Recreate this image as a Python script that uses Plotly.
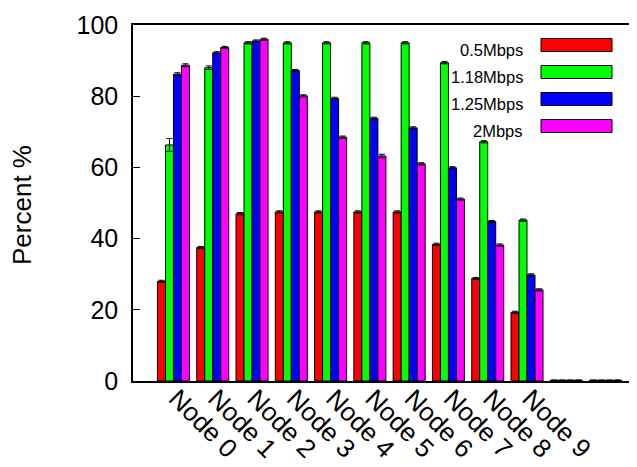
import plotly.graph_objects as go

# ---- data ----
node_labels = ["Node 0", "Node 1", "Node 2", "Node 3", "Node 4",
               "Node 5", "Node 6", "Node 7", "Node 8", "Node 9"]
series_names = ["0.5Mbps", "1.18Mbps", "1.25Mbps", "2Mbps"]
# 12 groups: 10 labelled nodes + two trailing near-zero groups
v_05 = [28.0, 37.5, 47.0, 47.5, 47.5, 47.5, 47.5, 38.4, 28.8, 19.3, 0.2, 0.2]
v_118 = [66.3, 88.0, 95.0, 95.0, 95.0, 95.0, 95.0, 89.4, 67.2, 45.2, 0.2, 0.2]
v_125 = [86.2, 92.2, 95.5, 87.2, 79.4, 73.8, 71.1, 59.9, 44.8, 29.8, 0.2, 0.2]
v_2 = [88.7, 93.7, 96.0, 80.1, 68.5, 63.2, 61.0, 51.1, 38.2, 25.6, 0.2, 0.2]
e_05 = [0.3, 0.3, 0.3, 0.3, 0.3, 0.3, 0.3, 0.3, 0.3, 0.3, 0.1, 0.1]
e_118 = [1.8, 0.5, 0.3, 0.3, 0.3, 0.3, 0.3, 0.3, 0.3, 0.3, 0.1, 0.1]
e_125 = [0.4, 0.3, 0.3, 0.3, 0.3, 0.3, 0.3, 0.3, 0.3, 0.3, 0.1, 0.1]
e_2 = [0.4, 0.3, 0.3, 0.3, 0.3, 0.5, 0.3, 0.3, 0.3, 0.3, 0.1, 0.1]

values = [v_05, v_118, v_125, v_2]
errors = [e_05, e_118, e_125, e_2]
colors = ["#FF0000", "#00FF00", "#0000FF", "#FF00FF"]

FONT = "Liberation Sans, Arial, Helvetica, sans-serif"
W, H = 637, 467
OFF = 8  # page body margin offset
# plot area in window pixels: left 133, top 25, bottom 381, right 637
ML, MT = 133 - OFF, 25 - OFF
MB = H - (381 - OFF)
MR = W - (637 - OFF)

fig = go.Figure()
xs = list(range(len(v_05)))
for name, vals, errs, col in zip(series_names, values, errors, colors):
    fig.add_trace(go.Bar(
        x=xs, y=vals, name=name,
        marker=dict(color=col, line=dict(color="black", width=1)),
        error_y=dict(type="data", array=errs, visible=True,
                     color="black", thickness=1, width=3),
        showlegend=False,
    ))

# ---- manual legend (text to the left of the key boxes) ----
pw, ph = W - ML - MR, H - MT - MB
def px(x):  # window pixel -> paper
    return (x - OFF - ML) / pw
def py(y):
    return 1 - (y - OFF - MT) / ph

for i, (name, col) in enumerate(zip(series_names, colors)):
    yc = 45 + 27 * i
    fig.add_shape(type="rect", xref="paper", yref="paper",
                  x0=px(541), x1=px(612), y0=py(yc + 6.5), y1=py(yc - 6.5),
                  fillcolor=col, line=dict(color="black", width=1))
    fig.add_annotation(xref="paper", yref="paper", x=px(525), y=py(yc + 5),
                       text=name, showarrow=False, xanchor="right",
                       yanchor="middle",
                       font=dict(family=FONT, size=16.5, color="black"))

# y-axis title
fig.add_annotation(xref="paper", yref="paper", x=px(22), y=py(205),
                   text="Percent %", showarrow=False, textangle=-90,
                   xanchor="center", yanchor="middle",
                   font=dict(family=FONT, size=26, color="black"))

fig.update_layout(
    width=W, height=H,
    margin=dict(l=ML, r=MR, t=MT, b=MB, autoexpand=False),
    barmode="group", bargap=0.185, bargroupgap=0,
    plot_bgcolor="white", paper_bgcolor="white",
    font=dict(family=FONT, color="black"),
    xaxis=dict(
        range=[-1.03, 11.8], automargin=False,
        tickmode="array", tickvals=list(range(len(node_labels))),
        ticktext=node_labels, tickangle=45,
        tickfont=dict(size=26), ticks="",
        ticklabelstandoff=-10, ticklabelshift=3,
        showline=True, linecolor="black", linewidth=1.5, mirror=True,
        showgrid=False, zeroline=False,
    ),
    yaxis=dict(
        range=[0, 100], tickvals=[0, 20, 40, 60, 80, 100], automargin=False,
        tickfont=dict(size=25), ticks="inside", ticklen=7,
        tickcolor="black", ticklabelstandoff=8,
        showline=True, linecolor="black", linewidth=1.5, mirror=False,
        showgrid=False, zeroline=False,
    ),
)

fig.write_html("out.html")
